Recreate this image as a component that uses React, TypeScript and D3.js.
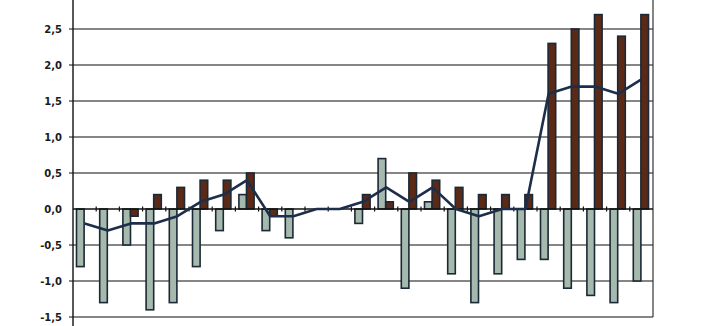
import React from "react";
import * as d3 from "d3";

const categories: string[] = Array.from({ length: 25 }, (_, i) => `C${i + 1}`);
const seriesGray: number[] = [-0.8, -1.3, -0.5, -1.4, -1.3, -0.8, -0.3, 0.2, -0.3, -0.4, 0, 0, -0.2, 0.7, -1.1, 0.1, -0.9, -1.3, -0.9, -0.7, -0.7, -1.1, -1.2, -1.3, -1.0];
const seriesBrown: number[] = [0, 0, -0.1, 0.2, 0.3, 0.4, 0.4, 0.5, -0.1, 0, 0, 0, 0.2, 0.1, 0.5, 0.4, 0.3, 0.2, 0.2, 0.2, 2.3, 2.5, 2.7, 2.4, 2.7];
const seriesLine: number[] = [-0.2, -0.3, -0.2, -0.2, -0.1, 0.1, 0.2, 0.4, -0.1, -0.1, 0, 0, 0.1, 0.3, 0.1, 0.3, 0.0, -0.1, 0.0, 0.0, 1.6, 1.7, 1.7, 1.6, 1.8];
const yTicks: number[] = [-1.5, -1.0, -0.5, 0, 0.5, 1.0, 1.5, 2.0, 2.5, 3.0];

export default function App() {
  const W = 712, H = 326;
  const left = 73, right = 653;
  const x = d3.scaleBand<string>().domain(categories).range([left, right]).paddingInner(0).paddingOuter(0);
  const y = d3.scaleLinear().domain([-1.5, 2.5]).range([317, 29]);
  const bw = x.bandwidth();
  const barW = 7.6;
  const fmt = (v: number) => v.toFixed(1).replace(".", ",");
  const line = d3.line<number>()
    .x((_, i) => (x(categories[i]) as number) + bw / 2)
    .y((d) => y(d));
  const zero = y(0);
  const stroke = "#1b2836";
  return (
    <svg width={W} height={H} style={{ position: "absolute", left: 0, top: 0, background: "#fff" }}>
      {yTicks.map((t) => (
        <g key={t}>
          {t !== 0 && (
            <line x1={left - 4} x2={right} y1={y(t)} y2={y(t)} stroke="#5e5e5e" strokeWidth={1.4} />
          )}
          <text x={62} y={y(t)} dy="0.36em" textAnchor="end" fontFamily="DejaVu Sans, Verdana, sans-serif" fontWeight="bold" fontSize={10} fill="#1a1a1a">
            {fmt(t)}
          </text>
        </g>
      ))}
      <line x1={left} x2={left} y1={0} y2={H} stroke="#111" strokeWidth={1.4} />
      <line x1={right} x2={right} y1={0} y2={y(-1.5)} stroke="#333" strokeWidth={1.2} />
      {categories.map((c, i) => {
        const x0 = x(c) as number;
        const cx = x0 + bw / 2;
        const g = seriesGray[i];
        const b = seriesBrown[i];
        return (
          <g key={c}>
            {g !== 0 && (
              <rect x={cx - barW - 0.5} width={barW} y={Math.min(y(g), zero)} height={Math.abs(y(g) - zero)} fill="#a6b9ad" stroke={stroke} strokeWidth={1.6} />
            )}
            {b !== 0 && (
              <rect x={cx - 0.5} width={barW} y={Math.min(y(b), zero)} height={Math.abs(y(b) - zero)} fill="#5a2a17" stroke={stroke} strokeWidth={1.6} />
            )}
          </g>
        );
      })}
      <line x1={left} x2={right} y1={zero} y2={zero} stroke="#111" strokeWidth={1.4} />
      {categories.slice(1).map((c) => {
        const xb = x(c) as number;
        return <line key={"t" + c} x1={xb} x2={xb} y1={zero - 2.5} y2={zero + 2.5} stroke="#111" strokeWidth={1.2} />;
      })}
      <path d={line(seriesLine) || ""} fill="none" stroke="#1d2e4a" strokeWidth={2.6} strokeLinejoin="round" />
    </svg>
  );
}
